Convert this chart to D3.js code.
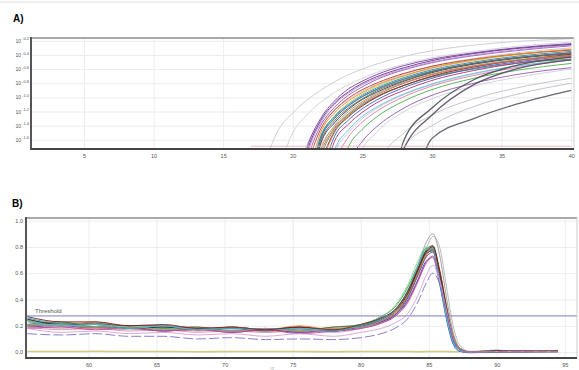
<!DOCTYPE html>
<html>
<head>
<meta charset="utf-8">
<script src="https://cdn.jsdelivr.net/npm/d3@7"></script>
<style>
  body { margin: 0; background: #fff; }
  text { font-family: "Liberation Sans", Arial, sans-serif; }
</style>
</head>
<body>
<svg id="chart" width="579" height="370"></svg>
<script>
// ---- A) amplification plot (log10 exponents per cycle) ----
const cycles = [17, 19, 20, 21, 22, 23, 24, 25, 26, 28, 30, 33, 36, 40];
const ampCurves = [
  [-2.6, -1.45, -1.22, -1.04, -0.9, -0.78, -0.68, -0.6, -0.53, -0.42, -0.34, -0.26, -0.21, -0.17],
  [-3, -2.0, -1.5, -1.25, -1.07, -0.93, -0.82, -0.73, -0.65, -0.53, -0.44, -0.35, -0.28, -0.22],
  [-3, -3, -2.4, -1.68, -1.38, -1.18, -1.03, -0.91, -0.82, -0.67, -0.56, -0.45, -0.37, -0.3],
  [-3, -3, -3, -3, -2.8, -1.8, -1.5, -1.3, -1.16, -0.96, -0.82, -0.67, -0.56, -0.46],
  [-3, -3, -3, -3, -3, -3, -2.6, -1.75, -1.5, -1.2, -1.02, -0.84, -0.72, -0.6],
  [-3, -3, -3, -3, -3, -3, -3, -2.8, -2.0, -1.5, -1.25, -1.02, -0.87, -0.73],
  [-3, -3, -3, -2.4, -1.7, -1.42, -1.24, -1.1, -0.99, -0.83, -0.71, -0.59, -0.51, -0.45],
  [-3, -3, -3, -3, -3, -3, -3, -3, -2.8, -1.7, -1.4, -1.13, -0.96, -0.8],
  [-3, -3, -2.6, -1.73, -1.3, -1.05, -0.88, -0.77, -0.68, -0.55, -0.46, -0.37, -0.3, -0.24],
  [-3, -3, -2.7, -1.9, -1.4, -1.14, -0.97, -0.85, -0.75, -0.61, -0.51, -0.41, -0.34, -0.27],
  [-3, -3, -2.65, -1.82, -1.36, -1.1, -0.94, -0.82, -0.73, -0.6, -0.5, -0.4, -0.33, -0.26],
  [-3, -3, -3, -2.5, -1.6, -1.3, -1.12, -0.99, -0.89, -0.74, -0.63, -0.52, -0.44, -0.37],
  [-3, -3, -3, -2.6, -1.66, -1.36, -1.17, -1.03, -0.93, -0.77, -0.65, -0.53, -0.45, -0.38],
  [-3, -3, -3, -2.8, -2.0, -1.5, -1.28, -1.12, -1.0, -0.83, -0.7, -0.57, -0.48, -0.4],
  [-3, -3, -2.9, -2.3, -1.55, -1.26, -1.08, -0.95, -0.85, -0.7, -0.59, -0.48, -0.4, -0.33],
  [-3, -3, -3, -2.7, -1.85, -1.45, -1.25, -1.1, -0.99, -0.83, -0.71, -0.6, -0.52, -0.46],
  [-3, -3, -2.95, -2.4, -1.58, -1.29, -1.12, -0.99, -0.89, -0.74, -0.63, -0.52, -0.44, -0.38],
  [-3, -3, -3, -3, -2.7, -1.75, -1.46, -1.27, -1.14, -0.95, -0.81, -0.66, -0.56, -0.47],
  [-3, -3, -2.8, -2.0, -1.45, -1.18, -1.01, -0.89, -0.8, -0.66, -0.56, -0.46, -0.39, -0.33],
  [-3, -3, -3, -2.75, -1.95, -1.48, -1.27, -1.12, -1.0, -0.83, -0.7, -0.57, -0.48, -0.39],
  [-3, -3, -3, -2.55, -1.64, -1.33, -1.15, -1.02, -0.91, -0.76, -0.64, -0.52, -0.44, -0.37],
  [-3, -3, -2.85, -2.2, -1.5, -1.22, -1.05, -0.93, -0.83, -0.69, -0.58, -0.47, -0.39, -0.32],
  [-3, -3, -3, -3, -2.85, -1.95, -1.56, -1.35, -1.2, -0.99, -0.84, -0.69, -0.58, -0.47],
  [-3, -3, -3, -2.9, -2.3, -1.62, -1.38, -1.21, -1.08, -0.9, -0.76, -0.62, -0.52, -0.43],
  [-3, -3, -2.62, -1.78, -1.33, -1.08, -0.92, -0.8, -0.71, -0.58, -0.48, -0.38, -0.31, -0.25],
  [-3, -3, -3, -2.85, -2.15, -1.55, -1.32, -1.16, -1.04, -0.86, -0.73, -0.59, -0.5, -0.41],
  [-3, -3, -3, -3, -3, -2.3, -1.7, -1.45, -1.28, -1.05, -0.89, -0.73, -0.62, -0.52],
  [-3, -3, -3, -3, -3, -2.7, -1.95, -1.62, -1.42, -1.15, -0.97, -0.8, -0.68, -0.58],
  [-3, -3, -3, -2.6, -1.75, -1.4, -1.2, -1.06, -0.95, -0.79, -0.67, -0.55, -0.47, -0.41],
  [-3, -3, -3, -2.65, -1.8, -1.43, -1.23, -1.08, -0.97, -0.8, -0.68, -0.56, -0.48, -0.42],
  [-3, -3, -2.9, -2.35, -1.56, -1.27, -1.1, -0.97, -0.87, -0.72, -0.61, -0.5, -0.42, -0.35],
  [-3, -3, -3, -3, -3, -3, -3, -3, -3, -1.6, -1.15, -0.75, -0.55, -0.43],
  [-3, -3, -3, -3, -3, -3, -3, -3, -3, -1.72, -1.25, -0.82, -0.6, -0.47],
  [-3, -3, -3, -3, -3, -3, -3, -3, -3, -2.6, -1.58, -1.3, -1.1, -0.9],
  [-1.69, -1.69, -1.69, -1.69, -1.69, -1.69, -1.69, -1.69, -1.69, -1.69, -1.69, -1.69, -1.69, -1.69]
];
const ampColors = [
  "#c9c9d2", "#cfcfd6", "#c4c4cc", "#c8c8d0", "#d0d0d8", "#c0c0c8", "#d8c8e0", "#bdbdc6",
  "#7b3fa0", "#9b59b6", "#b48ad0", "#2b4fa8", "#1f3a80", "#b8a630", "#d9c84a",
  "#3e9a4f", "#2a9d9a", "#5bc0de", "#c0392b", "#a0203a", "#8b5a2b", "#e08a2e",
  "#e07aa8", "#b03080", "#6a2d8f", "#3a62c0", "#4caf50", "#8e5cb8", "#9e9a3a",
  "#d06060", "#2f7fbf",
  "#4a4f55", "#5a4a66", "#555b60", "#e8b4bc"
];
const ampTicksX = [5, 10, 15, 20, 25, 30, 35, 40];
const ampTicksY = [-0.2, -0.4, -0.6, -0.8, -1.0, -1.2, -1.4, -1.6];

// ---- B) melt curve (-dF/dT per temperature) ----
const temps = [55.5, 58, 60.5, 63, 65.5, 68, 70.5, 73, 75.5, 78, 80, 81.5, 82.5, 83.5, 84.2, 84.8, 85.3, 85.8, 86.3, 86.8, 87.3, 88, 90, 92, 94.5];
const meltCurves = [
  [0.005, 0.004, 0.006, 0.004, 0.005, 0.003, 0.004, 0.005, 0.004, 0.003, 0.004, 0.004, 0.005, 0.004, 0.003, 0.004, 0.005, 0.004, 0.004, 0.003, 0.004, 0.005, 0.004, 0.003, 0.004],
  [0.2, 0.18, 0.19, 0.17, 0.18, 0.16, 0.17, 0.15, 0.16, 0.16, 0.18, 0.22, 0.28, 0.42, 0.6, 0.78, 0.88, 0.8, 0.5, 0.2, 0.05, 0.005, 0.003, 0.002, 0.003],
  [0.25, 0.21, 0.22, 0.19, 0.2, 0.17, 0.19, 0.17, 0.19, 0.16, 0.2, 0.24, 0.3, 0.44, 0.61, 0.75, 0.79, 0.6, 0.33, 0.12, 0.03, 0.0, 0.012, 0.002, 0.01],
  [0.21, 0.22, 0.19, 0.2, 0.18, 0.19, 0.16, 0.18, 0.17, 0.19, 0.21, 0.27, 0.34, 0.5, 0.66, 0.79, 0.8, 0.57, 0.29, 0.09, 0.02, 0.002, 0.014, 0.004, 0.008],
  [0.26, 0.22, 0.22, 0.19, 0.2, 0.18, 0.19, 0.17, 0.18, 0.17, 0.21, 0.26, 0.32, 0.47, 0.64, 0.77, 0.78, 0.55, 0.28, 0.08, 0.01, 0.0, 0.004, 0.01, 0.003],
  [0.2, 0.21, 0.18, 0.19, 0.16, 0.18, 0.15, 0.17, 0.15, 0.17, 0.19, 0.23, 0.28, 0.4, 0.55, 0.69, 0.72, 0.52, 0.25, 0.06, 0.005, -0.005, 0.0, 0.002, 0.004],
  [0.24, 0.2, 0.23, 0.19, 0.2, 0.17, 0.19, 0.17, 0.2, 0.17, 0.2, 0.25, 0.31, 0.46, 0.62, 0.76, 0.8, 0.63, 0.36, 0.13, 0.03, 0.002, 0.01, 0.013, 0.008],
  [0.21, 0.23, 0.19, 0.2, 0.19, 0.19, 0.16, 0.18, 0.16, 0.19, 0.2, 0.24, 0.29, 0.43, 0.59, 0.73, 0.78, 0.62, 0.35, 0.12, 0.03, 0.0, 0.008, 0.003, 0.012],
  [0.19, 0.2, 0.18, 0.19, 0.16, 0.18, 0.16, 0.18, 0.15, 0.17, 0.19, 0.23, 0.28, 0.42, 0.58, 0.72, 0.76, 0.58, 0.31, 0.1, 0.02, 0.0, 0.005, 0.009, 0.004],
  [0.25, 0.21, 0.21, 0.2, 0.2, 0.17, 0.19, 0.17, 0.19, 0.16, 0.2, 0.25, 0.31, 0.45, 0.62, 0.75, 0.77, 0.56, 0.3, 0.09, 0.02, 0.0, 0.003, 0.004, 0.005],
  [0.2, 0.21, 0.18, 0.19, 0.17, 0.18, 0.16, 0.17, 0.16, 0.18, 0.19, 0.24, 0.3, 0.44, 0.6, 0.74, 0.79, 0.61, 0.34, 0.12, 0.03, 0.003, 0.011, 0.005, 0.013],
  [0.19, 0.17, 0.18, 0.16, 0.17, 0.15, 0.16, 0.15, 0.17, 0.15, 0.18, 0.22, 0.27, 0.38, 0.53, 0.67, 0.72, 0.56, 0.3, 0.1, 0.02, 0.0, 0.004, 0.003, 0.003],
  [0.24, 0.2, 0.21, 0.18, 0.19, 0.17, 0.18, 0.16, 0.18, 0.16, 0.2, 0.25, 0.31, 0.46, 0.63, 0.77, 0.81, 0.62, 0.34, 0.11, 0.02, 0.0, 0.004, 0.002, 0.004],
  [0.21, 0.21, 0.19, 0.2, 0.17, 0.18, 0.16, 0.18, 0.16, 0.18, 0.19, 0.24, 0.31, 0.47, 0.66, 0.83, 0.9, 0.74, 0.42, 0.15, 0.03, 0.0, 0.003, 0.002, 0.003],
  [0.24, 0.2, 0.21, 0.19, 0.2, 0.17, 0.19, 0.17, 0.18, 0.17, 0.21, 0.27, 0.35, 0.52, 0.69, 0.8, 0.79, 0.55, 0.27, 0.08, 0.01, 0.0, 0.015, 0.004, 0.009],
  [0.18, 0.19, 0.17, 0.18, 0.16, 0.17, 0.15, 0.17, 0.14, 0.16, 0.18, 0.22, 0.27, 0.39, 0.54, 0.68, 0.73, 0.57, 0.31, 0.1, 0.02, 0.0, 0.003, 0.004, 0.003],
  [0.23, 0.2, 0.21, 0.18, 0.2, 0.17, 0.18, 0.17, 0.18, 0.16, 0.2, 0.25, 0.32, 0.48, 0.65, 0.78, 0.79, 0.56, 0.28, 0.08, 0.01, 0.0, 0.004, 0.003, 0.004],
  [0.27, 0.23, 0.23, 0.2, 0.21, 0.18, 0.19, 0.17, 0.19, 0.17, 0.21, 0.26, 0.32, 0.47, 0.63, 0.76, 0.8, 0.6, 0.32, 0.1, 0.02, 0.0, 0.012, 0.006, 0.01],
  [0.18, 0.15, 0.16, 0.14, 0.15, 0.13, 0.14, 0.12, 0.14, 0.12, 0.15, 0.18, 0.22, 0.3, 0.43, 0.58, 0.66, 0.55, 0.32, 0.11, 0.02, 0.0, 0.004, 0.003, 0.004],
  [0.14, 0.13, 0.14, 0.12, 0.12, 0.1, 0.11, 0.095, 0.1, 0.095, 0.11, 0.14, 0.18, 0.26, 0.38, 0.52, 0.6, 0.52, 0.3, 0.1, 0.02, 0.0, 0.003, 0.002, 0.003]
];
const meltColors = [
  "#cbc57a", "#b4b4b4", "#d03a2a", "#3aa040", "#20a0a0", "#2040c0", "#e8802a",
  "#8a5a30", "#8040a0", "#203060", "#a09a30", "#e090b0", "#333333", "#9a9a9a",
  "#8fd18f", "#c04090", "#40b8d8", "#802020", "#d8a0d0", "#7f6fc8"
];
const meltTicksX = [60, 65, 70, 75, 80, 85, 90, 95];
const meltTicksY = [0, 0.2, 0.4, 0.6, 0.8, 1.0];
const threshold = 0.275;

const svg = d3.select("#chart");
svg.append("line").attr("x1", 0).attr("x2", 579).attr("y1", 2).attr("y2", 2)
  .attr("stroke", "#e2e2e2");

function frame(box) {
  svg.append("line").attr("x1", box.l).attr("x2", box.r).attr("y1", box.t).attr("y2", box.t)
    .attr("stroke", "#8c8c8c").attr("stroke-width", 1.6);
  svg.append("line").attr("x1", box.r).attr("x2", box.r).attr("y1", box.t).attr("y2", box.b)
    .attr("stroke", "#d0d0d0").attr("stroke-width", 1);
  svg.append("line").attr("x1", box.l).attr("x2", box.l).attr("y1", box.t - 1).attr("y2", box.b + 1)
    .attr("stroke", "#555").attr("stroke-width", 2);
  svg.append("line").attr("x1", box.l).attr("x2", box.r).attr("y1", box.b).attr("y2", box.b)
    .attr("stroke", "#444").attr("stroke-width", 2);
}

function grid(box, x, y, xt, yt) {
  svg.append("g").attr("transform", `translate(0,${box.b})`)
    .call(d3.axisBottom(x).tickValues(xt).tickSize(-(box.b - box.t)).tickFormat(""))
    .call(g => g.select(".domain").remove())
    .selectAll("line").attr("stroke", "#ececf0");
  svg.append("g").attr("transform", `translate(${box.l},0)`)
    .call(d3.axisLeft(y).tickValues(yt).tickSize(-(box.r - box.l)).tickFormat(""))
    .call(g => g.select(".domain").remove())
    .selectAll("line").attr("stroke", "#ececf0");
}

// ---------- panel A ----------
const A = {l: 31, r: 574, t: 38, b: 149};
const xA = d3.scaleLinear().domain([1.2, 40.2]).range([A.l, A.r]);
const yA = d3.scaleLog().domain([Math.pow(10, -1.73), Math.pow(10, -0.16)]).range([A.b, A.t]);

svg.append("text").attr("x", 13).attr("y", 22).attr("font-size", 10)
  .attr("font-weight", "bold").text("A)");

grid(A, xA, yA, ampTicksX, ampTicksY.map(e => Math.pow(10, e)));

svg.append("clipPath").attr("id", "clipA").append("rect")
  .attr("x", A.l).attr("y", A.t).attr("width", A.r - A.l).attr("height", A.b - A.t);

const lineA = d3.line()
  .x((d, i) => xA(cycles[i]))
  .y(d => yA(Math.pow(10, d)))
  .curve(d3.curveMonotoneX);

const nAmp = ampCurves.length;
svg.append("g").attr("clip-path", "url(#clipA)")
  .selectAll("path").data(ampCurves).join("path")
  .attr("d", lineA)
  .attr("fill", "none")
  .attr("stroke", (d, i) => ampColors[i])
  .attr("stroke-width", (d, i) => (i >= nAmp - 4 && i < nAmp - 1) ? 1.3 : 1)
  .attr("stroke-opacity", 0.9);

frame(A);

svg.append("g").attr("transform", `translate(0,${A.b})`)
  .call(d3.axisBottom(xA).tickValues(ampTicksX).tickSize(0).tickPadding(5))
  .call(g => g.select(".domain").remove())
  .selectAll("text").attr("font-size", 5.5).attr("fill", "#555")
  .attr("font-family", "Liberation Sans, Arial, sans-serif");

const yLabA = svg.append("g").attr("transform", `translate(${A.l - 2},0)`)
  .call(d3.axisLeft(yA).tickValues(ampTicksY.map(e => Math.pow(10, e))).tickSize(0).tickPadding(0).tickFormat(""))
  .call(g => g.select(".domain").remove());
yLabA.selectAll("text").each(function(d, i) {
  const t = d3.select(this).attr("font-size", 5).attr("fill", "#555")
    .attr("font-family", "Liberation Sans, Arial, sans-serif");
  t.append("tspan").text("10");
  t.append("tspan").attr("dx", 1).attr("dy", -2.5).attr("font-size", 4)
    .text(ampTicksY[i].toFixed(1));
});

// ---------- panel B ----------
const B = {l: 26, r: 577, t: 218, b: 358};
const xB = d3.scaleLinear().domain([55.4, 95.9]).range([B.l, B.r]);
const yB = d3.scaleLinear().domain([-0.045, 1.02]).range([B.b, B.t]);

svg.append("text").attr("x", 12).attr("y", 207).attr("font-size", 10)
  .attr("font-weight", "bold").text("B)");

grid(B, xB, yB, meltTicksX, meltTicksY);

svg.append("clipPath").attr("id", "clipB").append("rect")
  .attr("x", B.l).attr("y", B.t).attr("width", B.r - B.l).attr("height", B.b - B.t);

const lineB = d3.line()
  .x((d, i) => xB(temps[i]))
  .y(d => yB(d))
  .curve(d3.curveMonotoneX);

svg.append("g").attr("clip-path", "url(#clipB)")
  .selectAll("path").data(meltCurves).join("path")
  .attr("d", lineB)
  .attr("fill", "none")
  .attr("stroke", (d, i) => meltColors[i])
  .attr("stroke-width", (d, i) => i === 0 ? 1.6 : 1)
  .attr("stroke-dasharray", (d, i) => i === meltCurves.length - 1 ? "10,3" : null)
  .attr("stroke-opacity", 0.9);

svg.append("line")
  .attr("x1", B.l).attr("x2", B.r)
  .attr("y1", yB(threshold)).attr("y2", yB(threshold))
  .attr("stroke", "#7d7db8").attr("stroke-width", 1);
svg.append("text").attr("x", 35).attr("y", yB(threshold) - 3)
  .attr("font-size", 6).attr("fill", "#555").text("Threshold");

frame(B);

svg.append("g").attr("transform", `translate(0,${B.b})`)
  .call(d3.axisBottom(xB).tickValues(meltTicksX).tickSize(0).tickPadding(5))
  .call(g => g.select(".domain").remove())
  .selectAll("text").attr("font-size", 5.5).attr("fill", "#555")
  .attr("font-family", "Liberation Sans, Arial, sans-serif");

svg.append("g").attr("transform", `translate(${B.l - 2},0)`)
  .call(d3.axisLeft(yB).tickValues(meltTicksY).tickSize(0).tickPadding(1).tickFormat(d3.format(".1f")))
  .call(g => g.select(".domain").remove())
  .selectAll("text").attr("font-size", 5.5).attr("fill", "#555")
  .attr("font-family", "Liberation Sans, Arial, sans-serif");

svg.append("text").attr("x", 272).attr("y", 369.5).attr("text-anchor", "middle")
  .attr("font-size", 3.5).attr("fill", "#777").text("°C");
</script>
</body>
</html>
